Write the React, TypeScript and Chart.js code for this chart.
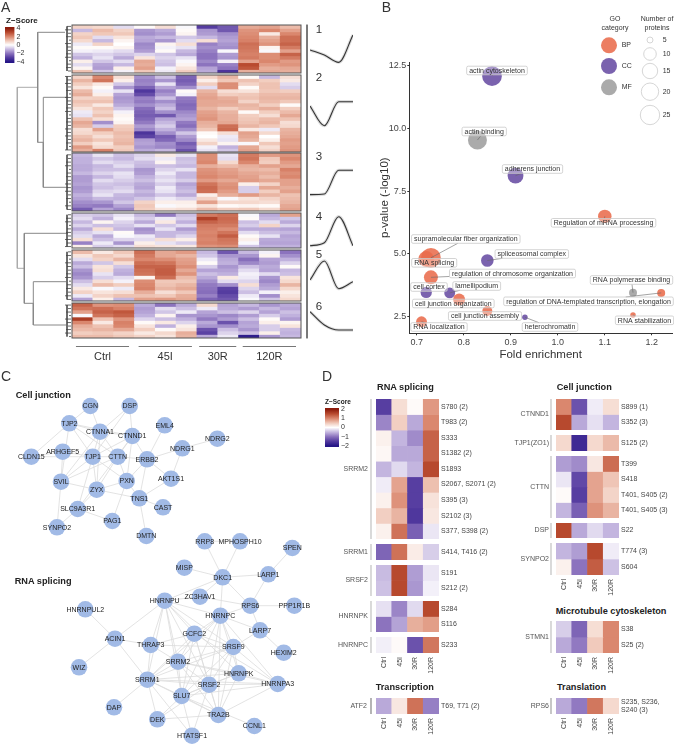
import React, { useEffect, useRef } from 'react';
import { Chart, registerables } from 'chart.js';
Chart.register(...registerables);
const FONT = '"Liberation Sans", Arial, sans-serif';
Chart.defaults.font.family = FONT;
Chart.defaults.animation = false as any;

/* ---------- panel A data ---------- */
const columns = ['C1','C2','C3','I1','I2','I3','R1','R2','T1','T2','T3'];
const groups = ['Ctrl','45I','30R','120R'];
const groupSpans = [[.19,2.74],[3.2,5.76],[6.11,7.89],[8.2,10.76]];
const cluster1 = [
[.8,.7,-.5,.1,.6,-.1,-3,-2.5,1.5,1.6,1.2],[-1,1.2,.8,-1.5,-1.2,.1,-1.5,-2.5,1.8,2,1.6],[.8,1,1,-1.6,-1.4,.2,-1.4,-1.6,1.9,.4,2],
[1,-.5,.5,-1.2,-1,-.8,-1,-1.4,2,1.4,2.4],[.7,-1,.2,-1.3,-1.5,-.5,.6,-1.3,2.1,1.6,2.4],[-.3,.8,0,-1.7,.2,.6,-1.8,-1.5,2.4,1.8,2.6],
[.1,.1,.2,-1.6,-.2,-.4,-1.6,-1.6,2.3,.2,2.2],[-.2,-.3,-.5,-1.4,.1,-1,-1.8,-.1,2.2,-.1,1.6],[-.8,-.6,-.8,-.6,-.8,-1.2,-2,-1.4,2.1,1.9,2.6],
[-1.1,-.4,-1.2,.5,-.6,-.4,-2,-1.5,2.2,1.9,2.2],[.3,-.8,-.5,1.5,-.8,-.1,-1.7,-.2,1.6,2,1.7],[-.5,-1.3,-1,1.4,-.9,.2,-2,-1.8,3,1.7,1.8],
[.2,-1.4,.3,1.6,-.2,.5,-1.3,-2,2.8,1.4,1.5],[1.1,-.8,-.2,1,-.3,.9,-1.2,-3.2,1.4,1.5,1.4]];
const cluster2 = [
[.8,2,.6,-1.6,-.9,-2.3,.8,1.3,.1,-1,.6],[1.3,2.3,.3,-1.8,-1.5,-2.4,.3,1,1.1,.9,.4],[.9,.4,-.8,-1.7,-.4,-2.2,.9,1.9,.8,1.1,-.5],
[.5,.1,-1.5,-2.3,-1.3,-1.6,-.5,1.9,.1,1.1,-.7],[1.2,-.2,-.4,-3.1,-1.8,.1,1.3,.6,.5,1,.9],[1.4,.3,-1.3,-2.7,-1.5,-.2,1.5,.9,1,1.2,1.2],
[.8,.9,-1.5,-1.8,-.9,-1.9,1.6,1.4,1.1,1.3,1.3],[1.1,1.1,-1.4,-1.9,-1.6,-2,1.5,1.5,.8,1.2,1],[.9,.4,-1.2,-1.6,-1.2,-2.2,1.5,1.4,1.3,.9,.1],
[.5,1,-.8,-2.1,-.9,-2.1,1.3,.9,1.2,1.4,.9],[-.3,.8,-.2,-2.3,-1.6,-1.7,1.6,1.3,.1,.9,1.2],[-.4,1.1,.2,-2.4,-2.5,-1.5,1.7,1.4,.9,.6,1.5],
[1.1,.6,.1,-2.2,-1.3,-1.3,1.8,1.4,1,1.2,1.1],[1.5,-1.6,.2,-1.9,-1,-1.9,1.4,1.5,1.1,1.3,.6],[1.3,-.7,.9,-1.4,-.7,-2.1,1.3,2.4,1.3,1,.7],
[.6,1.6,1,-1.7,-1.1,-1.6,1,2.5,.4,-.3,1.3],[.7,.9,1.2,-3.2,-1.6,-.8,.1,.6,1.6,.7,1.4],[1.1,.6,1.1,-2.9,-2.4,-1.4,0,-.3,1.5,0,1.5],
[1.3,1,1.2,-1.4,-2.2,-1.7,.4,-.4,1.3,.3,1.7],[.9,.5,1.3,-1.3,-1.6,-2.4,.8,.2,-.1,1,1.6],[1.7,.7,.9,-1.5,-1.7,-2.1,-.2,-1.1,1.5,.6,1.7],
[1.4,2.1,1,-1.2,-1,-2.6,-.4,-.8,1.6,.8,1.8]];
const cluster3 = [
[-1,-.4,-.9,-.6,.4,-.4,1.9,-.4,2.2,1.7,1.8],[-1.1,-.8,-1,-.5,-.3,-.9,1.9,-.5,2.3,1,2],[-1.1,-.5,-.7,-.9,.2,-.8,2,.7,2,.9,1.7],
[-1.2,-1,-.5,-1,-.9,-1,1.4,1.2,1.4,1.6,1.5],[-1.2,-.9,-.9,-1.5,-.6,-.4,1.8,1.6,1.3,1.2,2.1],[-1,-.6,-.4,-1.4,-.3,-1,1.9,1.7,1.5,1.4,1.9],
[-1.4,-1,-.5,-1.1,-.6,-1,2,1.8,1.6,1.2,2],[-1.4,-.5,-.7,-.9,-.4,-.7,1.7,1.5,1.7,1.5,1.6],[-1.3,-.8,-.9,-1.2,-.7,-1.3,2.3,1.8,.3,.8,1.6],
[-1.5,-.9,-.7,-1.3,-.3,-1.1,2.5,1.9,-.7,1.5,1.4],[-1.4,-.6,-.5,-1,-.4,-.9,2.4,1.7,-.7,.9,1.6],[-1.1,-.4,-1,-1.2,-.8,-1.2,.3,1.4,1.7,1.3,1.1],
[-1.3,-1,-1.1,-.8,-.3,-.6,.8,-.1,.5,.8,1.2],[-1.6,-1.5,-.8,.8,.3,.3,1.6,.7,.7,.6,1.3],[-1.8,-1.9,-1.3,1,-.1,.2,.5,.1,.2,.1,1.5],
[-2.4,-1.3,-1.7,.9,.5,.6,1.2,.9,1,.7,1.6]];
const cluster4 = [
[-.7,-.8,-.4,-1,-1.9,-.9,2.2,2.4,-.1,-1.2,1.6],[-.5,-1.1,-.2,-.7,-.3,-.7,3.2,2.5,.1,-1,-.8],[-1,.2,-.6,-1.2,.4,-1.1,2.6,2.4,-.9,-.5,-1.2],
[-.6,-.9,-.8,-.4,-.8,-.5,2.2,2.2,-.7,.8,-.6],[-1.2,.6,-1,-1.6,-.4,-1.4,2.1,1.9,-1.2,-1.2,-1.3],[-.7,-.4,.1,-1.4,-1,-1,2,2.3,-.5,-.9,-1],
[-.5,-1.2,-.1,-.3,-1,-.6,2.1,2.7,.1,-.4,-1.3],[.6,-.9,-.6,-.5,.6,.3,2,2.3,.3,-1.2,-1.2],[-1.8,-.3,-1.5,.3,-.4,-.7,2.1,2.2,-.1,-1.3,-1.3],
[.3,-.7,-.5,.6,.5,.4,1.8,1.9,-.8,-1.1,-1.1]];
const cluster5 = [
[1.2,.4,1,2.4,1.5,1.7,-1,-2.5,-1,-.2,-2],[.5,1,.7,2.2,1.5,1.3,-.8,-1.5,-1.5,.2,-1.6],[-.5,.8,1.3,2,1.9,1.6,-.3,-1.2,-2.1,-1.3,-1.1],
[-1.2,-.8,.6,2.4,2.3,1.7,.1,-1.1,-1.7,-1.4,-.6],[-.9,.5,-.8,2.6,2.6,1.9,-.7,-1.5,-.9,-1.2,.1],[-1.5,.6,-1.1,2.4,2.7,1.5,-1.3,-1.3,-.5,-1.3,-1],
[-1.7,-.4,-1.2,2.3,2.7,1.8,-.9,-1.1,-.2,-.5,-.9],[-1.5,-.7,-.5,.2,2.4,1.2,-1.2,.4,-.3,-1.5,.5],[-.9,.6,-.2,1.9,1,1,-1.6,-.5,-.6,-1.7,.7],
[-.5,1.2,.9,2,1.1,1.3,-1.9,-1.6,.6,-1.4,1.3],[.4,-.1,-.3,2.1,1.3,1.5,-2,-2.9,-.6,-1.2,.7],[.8,.5,.6,1.4,.6,1,-2.1,-3,-.9,-.2,.3],
[-.3,.8,1.1,1.1,1,1.4,-1.8,-2.7,-.3,-1.6,.5],[-1.3,.3,-1,1.6,1.7,1.5,-2.3,-2.5,-.1,-.8,.7]];
const cluster6 = [
[2.6,1.8,1.9,-1.2,-2,-1.2,.7,-1.3,-1,-1.5,-1.2],[2.3,2.4,2.1,-1.4,-.5,-.9,-.3,-1.2,-1.4,-1,-1.3],[1.6,2.6,2.8,-1.3,-.8,-.3,-1.3,-.9,-.6,-1.3,-.9],
[-.1,2.3,2.6,-1.1,.2,-1.5,-1.5,-1.7,-1.4,-.7,-1.1],[3.3,1.1,1.8,-.6,-.9,-1.1,-1.9,-1.4,-.9,.1,-1.4],[2,.4,2.1,.1,.4,-.6,-1.2,-2.6,-1.3,.3,.2],
[1.4,1.1,2,.5,-1.1,.3,-1.5,-1.6,-1.2,-.7,.5],[1.2,1.3,1.5,.9,.1,.5,-2.6,-.9,-1.5,-.7,-1],[.9,1,.8,.4,.7,1.4,-2.9,-.6,-.9,.3,-1.1],
[1.2,1.2,1,.8,.5,1.3,-1.2,-.3,-3.8,-1.5,-1]];
const clusters = [cluster1, cluster2, cluster3, cluster4, cluster5, cluster6];
const clusterTops = [24.7, 74.7, 153, 213, 250, 303.3];
const clusterBottoms = [72.7, 151.7, 211.3, 248.3, 301.3, 338.3];
const clusterMeans = [
  [0, -.42, -1.03, 1.25], [.33, -1.31, .69, .69], [-1.22, -1.17, .81, .81],
  [-1.31, -1.06, 1.11, -1.31], [-.42, 1.17, -1.14, -.56], [.86, -.25, -.67, -.67]];
const sparkCentres = [50, 110, 180, 230, 275, 322];
const clusterNumbers = [['1', 30], ['2', 78], ['3', 157], ['4', 217], ['5', 254.7], ['6', 307]];
const dendroTree = [
  [[65,32.3],[37.7,32.3],[37.7,142.3],[43.3,142.3],[43.3,97.3],[68,97.3]],
  [[43.3,142.3],[43.3,187.3],[68,187.3]],
  [[68,233.3],[24.3,233.3],[24.3,303.3],[33.3,303.3],[33.3,281.7],[66,281.7]],
  [[33.3,303.3],[33.3,325],[66,325]],
];
const dendroRoot = [[[37.7,87.3],[17.3,87.3],[17.3,268.3],[24.3,268.3]]];
const leafDepths = [4,6,3,5,2,6,4,3,5,6,2,4,5,3,6];

/* ---------- panel B data ---------- */
const goTerms = ['actin cytoskeleton','actin binding','adherens junction','Regulation of mRNA processing','supramolecular fiber organization','RNA splicing','spliceosomal complex','regulation of chromosome organization','cell cortex','lamellipodium','cell junction organization','cell junction assembly','heterochromatin','RNA localization','RNA polymerase binding','regulation of DNA-templated transcription, elongation','RNA stabilization'];
const goFold = [.86,.829,.91,1.1,.73,.72,.85,.73,.72,.77,.79,.85,.93,.71,1.16,1.22,1.16];
const goPval = [12.09,9.54,8.12,6.5,4.85,4.8,4.74,4.07,3.47,3.45,3.19,2.73,2.48,2.3,3.46,3.45,2.57];
const goCount = [26,24,16,11.5,26,16,10,12.5,9,8.7,9.5,8,4,8.7,6.5,6.5,4];
const goCat = ['CC','MF','CC','BP','BP','BP','CC','BP','CC','CC','BP','BP','CC','BP','MF','BP','BP'];
const foldTicks = [.7,.8,.9,1,1.1,1.2];
const pvalTicks = [2.5,5,7.5,10,12.5];
const catColors: any = { BP: 'rgba(233,108,76,.88)', CC: 'rgba(115,90,170,.95)', MF: 'rgba(165,165,165,.95)' };
const legendCats = ['BP','CC','MF'];
const legendCounts = [5,10,15,20,25];
const countBreaks = [1,5,10,15,20,25,30];
const radiusBreaks = [2,3,6.3,7.7,8.7,9.7,10.5];
const labelCentres = [[497,70.5],[484.2,131.5],[532.5,169],[603.5,222.8],[465.8,239],[434.2,262.8],[531.8,254],[512.5,273.5],[429,287],[476.7,286],[453.3,303.5],[485,316],[550,327],[439,327],[631.5,280],[588.5,301.3],[644.5,320.3]];

/* ---------- panel C data ---------- */
const junctionNodes: any[] = [['CGN',90.3,406],['DSP',129.7,406],['TJP2',69.3,423.3],['CTNNA1',100,431.7],['CTNND1',132.3,436],['EML4',164.7,425.3],['NDRG2',217.3,438.7],['NDRG1',182.3,448.3],['CLDN15',31.3,456.7],['ARHGEF5',62.7,451.7],['TJP1',92.7,456.7],['CTTN',117.7,456.7],['ERBB2',147,459.3],['AKT1S1',171,478.7],['SVIL',61,481.7],['PXN',126.7,481],['ZYX',96.7,489.7],['TNS1',139.3,498.3],['CAST',163,507.3],['SLC9A3R1',77.7,509],['PAG1',112.3,521],['SYNPO2',57,527.3],['DMTN',146.3,536]];
const junctionEdges = 'CGN-TJP2 CGN-CTNNA1 DSP-CTNNA1 DSP-CTNND1 DSP-TJP1 TJP2-CTNNA1 TJP2-CTNND1 TJP2-TJP1 TJP2-CLDN15 TJP2-CTTN TJP2-SVIL CTNNA1-CTNND1 CTNNA1-TJP1 CTNNA1-CTTN CTNNA1-ZYX CTNNA1-SVIL CTNND1-CTTN CTNND1-ERBB2 CTNND1-TJP1 CTNND1-PXN CTNND1-SLC9A3R1 EML4-ERBB2 NDRG1-NDRG2 NDRG1-ERBB2 NDRG1-AKT1S1 ERBB2-AKT1S1 ERBB2-TNS1 ERBB2-CTTN ERBB2-PXN AKT1S1-TNS1 CLDN15-ARHGEF5 CLDN15-TJP1 ARHGEF5-TJP1 ARHGEF5-SVIL TJP1-CTTN TJP1-SVIL TJP1-ZYX TJP1-PXN TJP1-SLC9A3R1 CTTN-SVIL CTTN-PXN CTTN-ZYX SVIL-ZYX SVIL-SYNPO2 ZYX-PXN ZYX-TNS1 ZYX-SLC9A3R1 PXN-TNS1 PXN-PAG1 TNS1-CAST TNS1-DMTN SLC9A3R1-PAG1 SLC9A3R1-SYNPO2'.split(' ');
const splicingNodes: any[] = [['RRP8',204.7,541.3],['MPHOSPH10',240,541.3],['SPEN',292.3,548],['MISP',184.3,567.7],['DKC1',222.7,577.3],['LARP1',268.3,574.3],['HNRNPU',164.7,600.7],['ZC3HAV1',200,596.7],['RPS6',250.3,605.7],['PPP1R1B',294.3,605.7],['HNRNPC',220.3,615.7],['HNRNPUL2',85.3,609.3],['ACIN1',115,638.7],['GCFC2',194.3,633.7],['LARP7',260,630.3],['THRAP3',150.7,645],['SRSF9',233.3,647],['HEXIM2',283.7,652.7],['SRRM2',178,661.7],['WIZ',79,667.3],['HNRNPK',238.7,673.3],['SRRM1',147.3,679.7],['SRSF2',209,684.7],['HNRNPA3',277.7,684],['SLU7',181.7,696],['DAP',114,707.3],['TRA2B',218.3,715],['DEK',157.3,719.3],['CCNL1',254.3,726],['HTATSF1',192,735.7]];
const splicingEdges = 'RRP8-MPHOSPH10 RRP8-DKC1 MPHOSPH10-DKC1 SPEN-LARP1 MISP-DKC1 DKC1-LARP1 DKC1-RPS6 DKC1-HNRNPU DKC1-HNRNPC DKC1-ZC3HAV1 LARP1-RPS6 RPS6-PPP1R1B RPS6-ZC3HAV1 RPS6-LARP7 RPS6-HNRNPC HNRNPU-ZC3HAV1 HNRNPU-HNRNPC HNRNPU-GCFC2 HNRNPU-SRSF9 HNRNPU-SRRM2 HNRNPU-SRRM1 HNRNPU-THRAP3 HNRNPU-HNRNPK HNRNPU-SRSF2 HNRNPU-ACIN1 HNRNPU-SLU7 HNRNPUL2-ACIN1 ACIN1-THRAP3 ACIN1-WIZ ACIN1-SRRM1 LARP7-HEXIM2 LARP7-HNRNPC LARP7-SRSF9 HNRNPC-GCFC2 HNRNPC-SRSF9 HNRNPC-SRRM2 HNRNPC-SRRM1 HNRNPC-HNRNPK HNRNPC-SRSF2 HNRNPC-HNRNPA3 HNRNPC-SLU7 HNRNPC-TRA2B GCFC2-THRAP3 GCFC2-SRRM2 GCFC2-SRSF9 GCFC2-SRSF2 GCFC2-SLU7 GCFC2-SRRM1 GCFC2-TRA2B GCFC2-HNRNPA3 THRAP3-SRRM2 THRAP3-SRRM1 THRAP3-SRSF9 SRRM2-SRSF9 SRRM2-HNRNPK SRRM2-SRRM1 SRRM2-SRSF2 SRRM2-SLU7 SRRM2-HNRNPA3 SRRM2-TRA2B SRSF9-HNRNPK SRSF9-SRSF2 SRSF9-SRRM1 SRSF9-SLU7 SRSF9-TRA2B SRSF9-HNRNPA3 HNRNPK-SRSF2 HNRNPK-SRRM1 HNRNPK-HNRNPA3 HNRNPK-SLU7 HNRNPK-TRA2B SRRM1-SRSF2 SRRM1-SLU7 SRRM1-HNRNPA3 SRRM1-DEK SRRM1-DAP SRRM1-HTATSF1 SRRM1-TRA2B SRSF2-HNRNPA3 SRSF2-SLU7 SRSF2-TRA2B SRSF2-DEK SRSF2-HTATSF1 SLU7-HNRNPA3 SLU7-TRA2B SLU7-DEK SLU7-CCNL1 SLU7-HTATSF1 TRA2B-HNRNPA3 TRA2B-DEK'.split(' ');

/* ---------- panel D data ---------- */
const conditions = ['Ctrl','45I','30R','120R'];
const srrm2Sites = ['S780 (2)','T983 (2)','S333','S1382 (2)','S1893','S2067, S2071 (2)','S395 (3)','S2102 (3)','S377, S398 (2)'];
const srrm2Z = [[-1.7,.35,.05,1],[-1,.5,-.7,1.15],[.15,-.6,-.95,1.5],[.08,-.7,-.7,1.5],[-.6,-.3,-.6,1.75],[-.15,.9,-1.7,.65],[.15,1.05,-1.7,.3],[.5,.75,-1.8,.25],[.15,1.35,-1.35,-.2]];
const srrm1Sites = ['S414, T416 (2)'];
const srrm1Z = [[-1.3,1.35,.2,-.4]];
const srsf2Sites = ['S191','S212 (2)'];
const srsf2Z = [[-.55,1.75,-.8,-.2],[-.5,1.75,-.85,-.12]];
const hnrnpkSites = ['S284','S116'];
const hnrnpkZ = [[-.25,-1,-.3,1.75],[-1.15,-.75,.8,.95]];
const hnrnpcSites = ['S233'];
const hnrnpcZ = [[-.13,.05,-1.5,1.3]];
const atf2Sites = ['T69, T71 (2)'];
const atf2Z = [[-.7,.25,1.35,-1.05]];
const ctnnd1Sites = ['S899 (1)','S352 (3)'];
const ctnnd1Z = [[1.15,-1.5,-.15,.35],[1.75,-.7,-.25,-.6]];
const tjp1Sites = ['S125 (2)'];
const tjp1Z = [[.4,-2,.4,.7]];
const cttnSites = ['T399','S418','T401, S405 (2)','T401, S405 (3)'];
const cttnZ = [[-.8,-.95,.25,1.4],[-.2,-1.6,.9,.6],[.05,-1.7,.9,.45],[-.6,-1.35,1.05,.75]];
const dspSites = ['S22'];
const dspZ = [[1.75,-.7,-.3,-.6]];
const synpo2Sites = ['T774 (3)','S604'];
const synpo2Z = [[-.6,-.8,1.75,-.15],[.15,-1.15,1.55,-.5]];
const stmn1Sites = ['S38','S25 (2)'];
const stmn1Z = [[-.4,-1.3,.35,1.15],[-.7,-1.1,.55,1.15]];
const rps6Sites = [['S235, S236,','S240 (3)']];
const rps6Z = [[-.7,-1.1,1.3,.4]];

/* ---------- helpers ---------- */
const rampStops: any[] = [[-1,[38,22,135]],[-.75,[85,60,160]],[-.5,[140,115,190]],[-.25,[198,184,224]],[0,[255,255,255]],[.25,[240,200,185]],[.5,[218,135,110]],[.75,[185,75,48]],[1,[140,28,12]]];
function ramp(t: number) {
  const v = Math.max(-1, Math.min(1, t));
  for (let i = 1; i < rampStops.length; i++) {
    if (v <= rampStops[i][0]) {
      const [a, ca] = rampStops[i - 1], [b, cb] = rampStops[i];
      const f = (v - a) / (b - a);
      return `rgb(${ca.map((c: number, k: number) => Math.round(c + (cb[k] - c) * f)).join(',')})`;
    }
  }
  return 'rgb(140,28,12)';
}
function radiusOf(n: number) {
  for (let i = 1; i < countBreaks.length; i++) {
    if (n <= countBreaks[i]) {
      const f = (n - countBreaks[i - 1]) / (countBreaks[i] - countBreaks[i - 1]);
      return radiusBreaks[i - 1] + (radiusBreaks[i] - radiusBreaks[i - 1]) * f;
    }
  }
  return radiusBreaks[radiusBreaks.length - 1];
}
const noPlugins = { legend: { display: false }, tooltip: { enabled: false }, title: { display: false } };
const base = { responsive: false, animation: false, events: [] as any[], maintainAspectRatio: false };
const flat = (padding: any = 0) => ({ padding, autoPadding: false });
const noPad = (s: any) => { s.paddingTop = 0; s.paddingBottom = 0; s.paddingLeft = 0; s.paddingRight = 0; };
const heatSets = (rows: number[][], zmax: number) => rows.map(r => ({
  data: r.map(() => 1), backgroundColor: r.map(z => ramp(z / zmax)), borderWidth: 0,
  barPercentage: 1, categoryPercentage: 1,
}));

function clusterConfig(rows: number[][]) {
  return {
    type: 'bar',
    data: { labels: columns, datasets: heatSets(rows, 4) },
    options: {
      ...base, plugins: noPlugins, layout: flat(1),
      scales: {
        x: { stacked: true, display: false },
        y: { stacked: true, display: false, reverse: true, min: 0, max: rows.length },
      },
    },
    plugins: [{ id: 'frame', afterDraw(c: any) {
      const a = c.chartArea, g = c.ctx; g.save(); g.strokeStyle = '#555'; g.lineWidth = 1;
      g.strokeRect(a.left, a.top, a.right - a.left, a.bottom - a.top); g.restore();
    } }],
  };
}
function geneConfig(gene: string, sites: any[], rows: number[][], L: number, R: number, pad: number, showX: boolean, bracket: string) {
  const n = rows.length;
  return {
    type: 'bar',
    data: { labels: conditions, datasets: heatSets(rows, 2.3) },
    options: {
      ...base, plugins: noPlugins, layout: flat(0),
      scales: {
        x: {
          stacked: true, display: showX, grid: { display: false, drawTicks: false }, border: { display: false },
          afterFit(s: any) { s.height = showX ? 24 : 0; noPad(s); },
          ticks: { color: '#444', font: { size: 7 }, minRotation: 90, maxRotation: 90, padding: 4, autoSkip: false },
        },
        y: {
          stacked: true, position: 'right', reverse: true, min: 0, max: n,
          grid: { display: false, drawTicks: false }, border: { display: false },
          afterFit(s: any) { s.width = R; noPad(s); },
          afterBuildTicks(s: any) { s.ticks = sites.map((_, i) => ({ value: i + .5 })); },
          ticks: { color: '#444', font: { size: 7 }, padding: 2, autoSkip: false, callback: (_: any, i: number) => sites[i] },
        },
        g: {
          position: 'left', reverse: true, min: 0, max: n,
          grid: { display: false, drawTicks: false }, border: { display: false },
          afterFit(s: any) { s.width = L; noPad(s); },
          afterBuildTicks(s: any) { s.ticks = [{ value: n / 2 }]; },
          ticks: { color: '#555', font: { size: 7 }, padding: pad, callback: () => gene },
        },
      },
    },
    plugins: [{ id: 'bracket', afterDraw(c: any) {
      const a = c.chartArea, g = c.ctx; g.save(); g.strokeStyle = bracket; g.lineWidth = 1.1;
      g.beginPath(); g.moveTo(a.left - 5, a.top); g.lineTo(a.left - 5, a.bottom); g.stroke(); g.restore();
    } }],
  };
}
function colorbarConfig(range: number, ticksAt: number[], zmax: number, W: number, fontSize: number) {
  return {
    type: 'bar',
    data: { labels: [''], datasets: [{
      data: [[-range, range]], barPercentage: 1, categoryPercentage: 1, borderWidth: 0,
      backgroundColor(ctx: any) {
        const s = ctx.chart.scales.y; const a = ctx.chart.chartArea; if (!a) return '#fff';
        const gr = ctx.chart.ctx.createLinearGradient(0, a.top, 0, a.bottom);
        rampStops.forEach((st: any) => {
          const v = st[0] * zmax; const p = (s.getPixelForValue(Math.max(-range, Math.min(range, v))) - a.top) / (a.bottom - a.top);
          gr.addColorStop(Math.max(0, Math.min(1, p)), `rgb(${st[1].join(',')})`);
        });
        return gr;
      },
    }] },
    options: {
      ...base, plugins: noPlugins, layout: flat({ top: 5, bottom: 5 }),
      scales: {
        x: { display: false },
        y: {
          position: 'right', min: -range, max: range, grid: { display: false, drawTicks: false }, border: { display: false },
          afterFit(s: any) { s.width = W; noPad(s); },
          afterBuildTicks(s: any) { s.ticks = ticksAt.map(value => ({ value })); },
          ticks: { color: '#333', font: { size: fontSize }, padding: 2, autoSkip: false, callback: (v: number) => (v < 0 ? '\u2212' + Math.abs(v) : String(v)) },
        },
      },
    },
  };
}
function polyData(polys: number[][][]) {
  const out: any[] = [];
  polys.forEach(p => { p.forEach(([x, y]) => out.push({ x, y })); out.push({ x: NaN, y: NaN }); });
  return out;
}
function dendroConfig() {
  const leaves: any[] = [];
  let k = 0;
  clusters.forEach((rows, ci) => {
    const h = (clusterBottoms[ci] - clusterTops[ci]) / rows.length;
    leaves.push([[67, clusterTops[ci] + h / 2], [67, clusterBottoms[ci] - h / 2]]);
    rows.forEach((_, i) => {
      const y = clusterTops[ci] + (i + .5) * h;
      leaves.push([[71 - leafDepths[k++ % leafDepths.length], y], [71, y]]);
    });
  });
  const line = (data: any[], color: string, w: number) => ({ data, showLine: true, pointRadius: 0, borderColor: color, borderWidth: w, spanGaps: false });
  return {
    type: 'scatter',
    data: { datasets: [
      line(polyData(leaves), '#444', .8),
      line(polyData(dendroTree), '#888', 1),
      line(polyData(dendroRoot), '#aaa', 1),
      line(polyData([[[307, 24.7], [307, 338.3]]]), '#666', 1),
    ] },
    options: {
      ...base, plugins: noPlugins, layout: flat(0),
      scales: { x: { type: 'linear', display: false, min: 0, max: 310 }, y: { type: 'linear', display: false, min: 20, max: 345, reverse: true } },
    },
  };
}
function sparkConfig(values: number[]) {
  const d = (c: string, w: number) => ({ data: values, borderColor: c, borderWidth: w, pointRadius: 0, cubicInterpolationMode: 'monotone', clip: false });
  return {
    type: 'line',
    data: { labels: conditions, datasets: [d('#333', 1.1), d('#dedede', 3.2)] },
    options: { ...base, plugins: noPlugins, layout: flat(0), scales: { x: { display: false, offset: false }, y: { display: false, min: -2.5, max: 2.5 } } },
  };
}
function bracketConfig() {
  return {
    type: 'scatter',
    data: { datasets: [{ data: polyData(groupSpans.map(([a, b]) => [[a, 0], [b, 0]])), showLine: true, pointRadius: 0, borderColor: '#777', borderWidth: 1, clip: false }] },
    options: {
      ...base, plugins: noPlugins, layout: flat(0),
      scales: {
        x: {
          type: 'linear', position: 'bottom', min: 0, max: 11, grid: { display: false, drawTicks: false }, border: { display: false },
          afterFit(s: any) { s.height = 18; noPad(s); },
          afterBuildTicks(s: any) { s.ticks = groupSpans.map(([a, b]) => ({ value: (a + b) / 2 })); },
          ticks: { color: '#333', font: { size: 11 }, padding: 3, maxRotation: 0, autoSkip: false, callback: (_: any, i: number) => groups[i] },
        },
        y: { display: false, min: -1, max: 1 },
      },
    },
  };
}
function bubbleConfig(ox: number, oy: number) {
  return {
    type: 'bubble',
    data: { datasets: [{
      data: goFold.map((x, i) => ({ x, y: goPval[i], r: radiusOf(goCount[i]) })),
      backgroundColor: goCat.map(c => catColors[c]), borderWidth: 0, clip: false,
    }] },
    options: {
      ...base, plugins: noPlugins, layout: flat({ top: 7, right: 2 }),
      scales: {
        x: {
          type: 'linear', min: .684, max: 1.243,
          grid: { drawOnChartArea: false, drawTicks: true, tickLength: 2, color: '#333' }, border: { color: '#333' },
          afterFit(s: any) { s.height = 31.7; noPad(s); },
          afterBuildTicks(s: any) { s.ticks = foldTicks.map(value => ({ value })); },
          ticks: { color: '#444', font: { size: 9 }, padding: 2, maxRotation: 0, callback: (v: number) => v.toFixed(1) },
          title: { display: true, text: 'Fold enrichment', color: '#333', font: { size: 11.5 }, padding: { top: 0, bottom: 3 } },
        },
        y: {
          type: 'linear', min: 1.84, max: 12.65,
          grid: { drawOnChartArea: false, drawTicks: true, tickLength: 2, color: '#333' }, border: { color: '#333' },
          afterFit(s: any) { s.width = 34.3; noPad(s); },
          afterBuildTicks(s: any) { s.ticks = pvalTicks.map(value => ({ value })); },
          ticks: { color: '#444', font: { size: 9 }, padding: 1, callback: (v: number) => v.toFixed(1) },
          title: { display: true, text: 'p-value (-log10)', color: '#333', font: { size: 11.5 }, padding: { top: 3, bottom: 0 } },
        },
      },
    },
    plugins: [{ id: 'goLabels', afterDatasetsDraw(c: any) {
      const g = c.ctx, pts = c.getDatasetMeta(0).data;
      g.save(); g.font = `7px ${FONT}`; g.textAlign = 'center'; g.textBaseline = 'middle';
      goTerms.forEach((t, i) => {
        const cx = labelCentres[i][0] - ox, cy = labelCentres[i][1] - oy;
        const hw = g.measureText(t).width / 2 + 2.5, hh = 4.3;
        const dx = pts[i].x - cx, dy = pts[i].y - cy;
        if (Math.abs(dx) > hw || Math.abs(dy) > hh) {
          const f = Math.min(hw / (Math.abs(dx) || 1e-6), hh / (Math.abs(dy) || 1e-6));
          g.strokeStyle = '#666'; g.lineWidth = .6; g.beginPath(); g.moveTo(pts[i].x, pts[i].y); g.lineTo(cx + dx * f, cy + dy * f); g.stroke();
        }
        g.beginPath(); g.roundRect(cx - hw, cy - hh, hw * 2, hh * 2, 1.5);
        g.fillStyle = 'rgba(255,255,255,.35)'; g.fill(); g.strokeStyle = '#c9c9c9'; g.lineWidth = .8; g.stroke();
        g.fillStyle = '#333'; g.fillText(t, cx, cy + .3);
      });
      g.restore();
    } }],
  };
}
function legendConfig() {
  const catY = [45.3, 66, 87.3], sizeY = [40, 54, 71, 91.7, 115];
  return {
    type: 'bubble',
    data: { datasets: [
      { data: legendCats.map((c, i) => ({ x: 609, y: catY[i], r: 8 })), backgroundColor: legendCats.map(c => catColors[c]), borderWidth: 0, tags: legendCats, dx: 12.7 },
      { data: legendCounts.map((n, i) => ({ x: 650, y: sizeY[i], r: radiusOf(n) })), backgroundColor: '#fff', borderColor: '#ccc', borderWidth: .8, tags: legendCounts.map(String), dx: 12.7 },
    ] },
    options: {
      ...base, plugins: noPlugins, layout: flat(0),
      scales: { x: { type: 'linear', display: false, min: 595, max: 674 }, y: { type: 'linear', display: false, min: 32, max: 128, reverse: true } },
    },
    plugins: [{ id: 'tags', afterDatasetsDraw(c: any) {
      const g = c.ctx; g.save(); g.font = `7px ${FONT}`; g.fillStyle = '#333'; g.textBaseline = 'middle';
      c.data.datasets.forEach((d: any, k: number) => c.getDatasetMeta(k).data.forEach((p: any, i: number) => g.fillText(d.tags[i], p.x + d.dx, p.y)));
      g.restore();
    } }],
  };
}
function networkConfig(nodes: any[], edges: string[], box: number[]) {
  const at: any = {}; nodes.forEach(n => { at[n[0]] = n; });
  const segs = edges.map(e => { const [a, b] = e.split('-'); return [[at[a][1], at[a][2]], [at[b][1], at[b][2]]]; });
  return {
    type: 'scatter',
    data: { datasets: [
      { data: nodes.map(n => ({ x: n[1], y: n[2] })), pointRadius: 8.3, pointBackgroundColor: '#a1bae6', pointBorderWidth: 0, clip: false },
      { data: polyData(segs), showLine: true, pointRadius: 0, borderColor: '#dcdcdc', borderWidth: .8, clip: false },
    ] },
    options: {
      ...base, plugins: noPlugins, layout: flat(0),
      scales: { x: { type: 'linear', display: false, min: box[0], max: box[1] }, y: { type: 'linear', display: false, min: box[2], max: box[3], reverse: true } },
    },
    plugins: [{ id: 'names', afterDatasetsDraw(c: any) {
      const g = c.ctx, pts = c.getDatasetMeta(0).data;
      g.save(); g.font = `7px ${FONT}`; g.fillStyle = '#222'; g.textAlign = 'center'; g.textBaseline = 'middle';
      nodes.forEach((n, i) => g.fillText(n[0], pts[i].x, pts[i].y + .3));
      g.restore();
    } }],
  };
}

/* ---------- components ---------- */
function Box({ x, y, w, h, make }: any) {
  const ref = useRef<HTMLCanvasElement>(null);
  useEffect(() => {
    const c = new Chart(ref.current as any, make());
    return () => c.destroy();
  }, []);
  return <canvas ref={ref} width={Math.round(w)} height={Math.round(h)} style={{ position: 'absolute', left: x, top: y, width: Math.round(w), height: Math.round(h) }} />;
}
function T({ x, y, s, b, a, c, children }: any) {
  const tx = a === 'center' ? '-50%' : a === 'right' ? '-100%' : '0';
  return <div style={{ position: 'absolute', left: x, top: y, fontSize: s, fontWeight: b ? 700 : 400, color: c || '#333', whiteSpace: 'nowrap', lineHeight: 1, fontFamily: FONT, transform: `translate(${tx},-50%)` }}>{children}</div>;
}
function Gene({ px, top, bottom, gene, sites, rows, pad, showX, bracket }: any) {
  const L = 50, W = 63, R = 66;
  const H = bottom - top;
  return <Box x={px - L} y={top} w={L + W + R} h={H + (showX ? 24 : 0)} make={() => geneConfig(gene, sites, rows, L, R, pad, !!showX, bracket || '#bbb')} />;
}

export default function App() {
  return (
    <div style={{ position: 'absolute', left: 0, top: 0, width: 674, height: 745, background: '#fff', overflow: 'hidden', fontFamily: FONT }}>
      <Box x={0} y={20} w={310} h={325} make={dendroConfig} />
      {clusters.map((rows, i) => (
        <Box key={i} x={70.7} y={clusterTops[i] - 1} w={231} h={clusterBottoms[i] - clusterTops[i] + 2} make={() => clusterConfig(rows)} />
      ))}
      <Box x={71.7} y={346} w={229} h={19} make={bracketConfig} />
      {clusterMeans.map((m, i) => (
        <Box key={i} x={310} y={sparkCentres[i] - 30} w={43} h={60} make={() => sparkConfig(m)} />
      ))}
      {clusterNumbers.map(([t, y]: any) => <T key={t} x={319} y={y} s={11.5} a="center">{t}</T>)}
      <Box x={5} y={22} w={27} h={46} make={() => colorbarConfig(4.3, [4, 2, 0, -2, -4], 4, 17.5, 7)} />
      <T x={6} y={21} s={8} b c="#222">Z−Score</T>

      <Box x={375} y={55} w={299} h={310} make={() => bubbleConfig(375, 55)} />
      <Box x={595} y={32} w={79} h={96} make={legendConfig} />
      <T x={615} y={18} s={7} a="center">GO</T>
      <T x={615} y={26.7} s={7} a="center">category</T>
      <T x={657} y={18} s={7} a="center">Number of</T>
      <T x={657} y={26.7} s={7} a="center">proteins</T>

      <Box x={0} y={395} w={330} h={150} make={() => networkConfig(junctionNodes, junctionEdges, [0, 330, 395, 545])} />
      <Box x={0} y={530} w={330} h={215} make={() => networkConfig(splicingNodes, splicingEdges, [0, 330, 530, 745])} />
      <T x={15.7} y={396.3} s={9.2} b c="#222">Cell junction</T>
      <T x={14.7} y={582} s={9.2} b c="#222">RNA splicing</T>

      <Gene px={376} top={399} bottom={539} gene="SRRM2" sites={srrm2Sites} rows={srrm2Z} pad={8} />
      <Gene px={376} top={544} bottom={560} gene="SRRM1" sites={srrm1Sites} rows={srrm1Z} pad={8} />
      <Gene px={376} top={565} bottom={596} gene="SRSF2" sites={srsf2Sites} rows={srsf2Z} pad={8} />
      <Gene px={376} top={601} bottom={632} gene="HNRNPK" sites={hnrnpkSites} rows={hnrnpkZ} pad={8} />
      <Gene px={376} top={637} bottom={653} gene="HNRNPC" sites={hnrnpcSites} rows={hnrnpcZ} pad={8} showX />
      <Gene px={376} top={698} bottom={714} gene="ATF2" sites={atf2Sites} rows={atf2Z} pad={9} showX bracket="#777" />
      <Gene px={556} top={399} bottom={430} gene="CTNND1" sites={ctnnd1Sites} rows={ctnnd1Z} pad={7} />
      <Gene px={556} top={435} bottom={451} gene="TJP1(ZO1)" sites={tjp1Sites} rows={tjp1Z} pad={7} />
      <Gene px={556} top={456} bottom={518} gene="CTTN" sites={cttnSites} rows={cttnZ} pad={7} />
      <Gene px={556} top={523} bottom={538} gene="DSP" sites={dspSites} rows={dspZ} pad={7} />
      <Gene px={556} top={543} bottom={575} gene="SYNPO2" sites={synpo2Sites} rows={synpo2Z} pad={7} showX />
      <Gene px={556} top={621} bottom={653} gene="STMN1" sites={stmn1Sites} rows={stmn1Z} pad={7} showX />
      <Gene px={556} top={698} bottom={714} gene="RPS6" sites={rps6Sites} rows={rps6Z} pad={7} showX bracket="#999" />
      <Box x={325} y={403} w={33} h={49} make={() => colorbarConfig(2.15, [2, 1, 0, -1, -2], 2, 19, 7)} />
      <T x={325} y={402.3} s={6.5} b c="#222">Z−Score</T>

      <T x={377} y={388} s={9.2} b c="#222">RNA splicing</T>
      <T x={556.7} y={388} s={9.2} b c="#222">Cell junction</T>
      <T x={375.7} y={688} s={9.2} b c="#222">Transcription</T>
      <T x={555.7} y={611.7} s={9.2} b c="#222">Microtubule cytoskeleton</T>
      <T x={557} y={688} s={9.2} b c="#222">Translation</T>

      <T x={1} y={7} s={14}>A</T>
      <T x={381.7} y={7} s={14}>B</T>
      <T x={1} y={376} s={14}>C</T>
      <T x={322} y={376} s={14}>D</T>
    </div>
  );
}
